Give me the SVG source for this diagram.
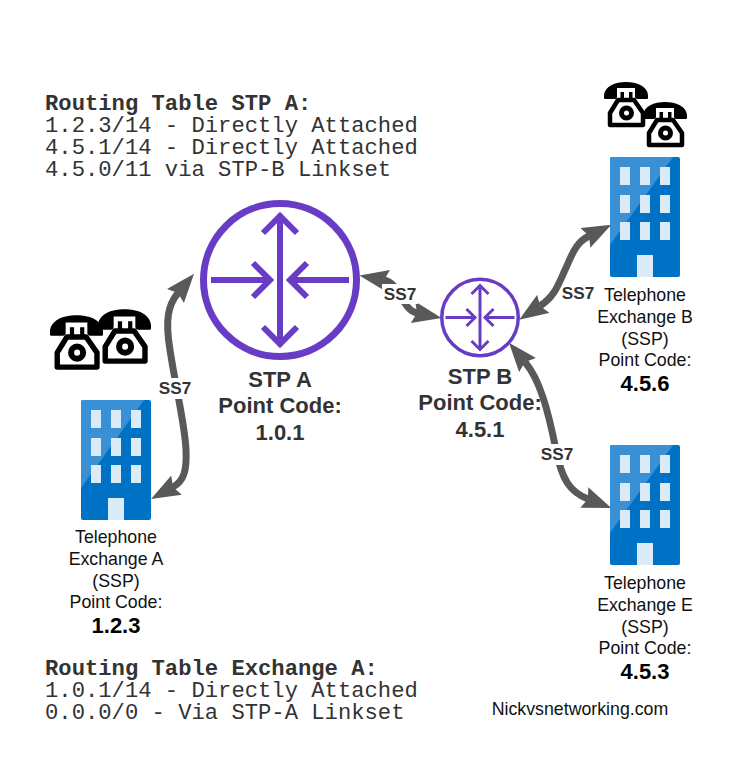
<svg xmlns="http://www.w3.org/2000/svg" width="750" height="780" viewBox="0 0 750 780">
<style>
.mono{font-family:"Liberation Mono",monospace;font-size:22.2px;fill:#333}
.b{font-weight:bold}
.lab{font-family:"Liberation Sans",Arial,sans-serif;font-size:17.75px;fill:#111;text-anchor:middle}
.pc{font-family:"Liberation Sans",Arial,sans-serif;font-size:22px;font-weight:bold;fill:#000;text-anchor:middle}
.stp{font-family:"Liberation Sans",Arial,sans-serif;font-size:22px;font-weight:bold;fill:#333;text-anchor:middle}
.ss7{font-family:"Liberation Sans",Arial,sans-serif;font-size:17.2px;font-weight:bold;fill:#333;text-anchor:middle}
.link{fill:none;stroke:#595959;stroke-width:7;marker-start:url(#head);marker-end:url(#head)}
.r{fill:none;stroke:#693cc5;stroke-width:6}
</style>
<defs>
<marker id="head" markerUnits="userSpaceOnUse" markerWidth="30" markerHeight="24" refX="4" refY="11" orient="auto-start-reverse" viewBox="0 0 30 24"><path d="M29,11 L0,0 L4,11 L0,22Z" fill="#595959"/></marker>
<symbol id="building" viewBox="0 0 70 120" width="70" height="120" overflow="visible">
<rect width="70" height="120" rx="2" fill="#0072c6"/>
<path d="M2,0 H63 L0,88 V2 Q0,0 2,0Z" fill="#3a90d4"/>
<path d="M10,10h10v18h-10zM30,10h10v18h-10zM50,10h10v18h-10zM10,38h10v18h-10zM30,38h10v18h-10zM50,38h10v18h-10zM10,65h10v18h-10zM30,65h10v18h-10zM50,65h10v18h-10zM27,98h16v22h-16z" fill="#daeaf6"/>
</symbol>
<symbol id="phone" viewBox="0 0 44 46" overflow="visible">
<path d="M14,18 H30 L39,31 V43 H6 V31 Z" fill="#fff" stroke="#000" stroke-width="4.500" stroke-linejoin="round"/>
<path d="M0,16 V13 C1,4 11,0 22,0 S43,4 44,13 V16 Q44,17 43,17 H33 Q31,17 31,15 V6 H13 V15 Q13,17 11,17 H1 Q0,17 0,16Z" fill="#000"/>
<path d="M16.500,10h3.500v8h-3.500zM25,10h3.500v8h-3.500z" fill="#000"/>
<circle cx="22.500" cy="31" r="5" fill="#fff" stroke="#000" stroke-width="5"/>
</symbol>
<symbol id="router" viewBox="0 0 160 160" overflow="visible">
<circle cx="80" cy="80" r="76.500" fill="#fff" stroke="#693cc5" stroke-width="7"/>
<path class="r" d="M80,16 V144 M63,33 L80,16 L97,33 M63,127 L80,144 L97,127 M11,80 H70 M53,63 L70,80 L53,97 M149,80 H90 M107,63 L90,80 L107,97"/>
</symbol>
</defs>
<rect width="750" height="780" fill="#fff"/>

<g id="connectors">
<path class="link" d="M173,487 C184,481 187,470 186,450 C185,425 177,395 170,350 C165,320 168,305 178,293"/>
<path class="link" d="M384,280 C400,283 402,310 417,313"/>
<path class="link" d="M540,306 C555,296 558,285 565,270 C572,255 575,243 589,236"/>
<path class="link" d="M525,362 C540,380 548,410 556,450 C562,480 570,492 588,499"/>
<rect x="157" y="378" width="36" height="21" fill="#fff"/>
<text class="ss7" x="175" y="394">SS7</text>
<rect x="382" y="284" width="36" height="20" fill="#fff"/>
<text class="ss7" x="400" y="300">SS7</text>
<text class="ss7" x="578" y="299">SS7</text>
<rect x="539" y="444" width="36" height="21" fill="#fff"/>
<text class="ss7" x="557" y="460">SS7</text>
</g>

<g id="table-stp-a">
<text class="mono b" x="45" y="110">Routing Table STP A:</text>
<text class="mono" x="45" y="132">1.2.3/14 - Directly Attached</text>
<text class="mono" x="45" y="154">4.5.1/14 - Directly Attached</text>
<text class="mono" x="45" y="176">4.5.0/11 via STP-B Linkset</text>
</g>
<g id="table-exchange-a">
<text class="mono b" x="45" y="675">Routing Table Exchange A:</text>
<text class="mono" x="45" y="696.500">1.0.1/14 - Directly Attached</text>
<text class="mono" x="45" y="718.500">0.0.0/0 - Via STP-A Linkset</text>
</g>

<g id="stp-a">
<use href="#router" x="200" y="200" width="160" height="160"/>
<text class="stp" x="280" y="387">STP A</text>
<text class="stp" x="280" y="413">Point Code:</text>
<text class="stp" x="280" y="440">1.0.1</text>
</g>
<g id="stp-b">
<use href="#router" x="440" y="277.500" width="80" height="80"/>
<text class="stp" x="480" y="384">STP B</text>
<text class="stp" x="480" y="410">Point Code:</text>
<text class="stp" x="480" y="437">4.5.1</text>
</g>
<g id="exchange-a">
<use href="#phone" x="98" y="309" width="53" height="56"/>
<use href="#phone" x="50" y="315" width="53" height="56"/>
<use href="#building" x="81" y="400"/>
<text class="lab" x="116" y="543">Telephone</text>
<text class="lab" x="116" y="565">Exchange A</text>
<text class="lab" x="116" y="587">(SSP)</text>
<text class="lab" x="116" y="608">Point Code:</text>
<text class="pc" x="116" y="633">1.2.3</text>
</g>
<g id="exchange-b">
<use href="#phone" x="604" y="82" width="44" height="46"/>
<use href="#phone" x="643" y="102" width="44" height="46"/>
<use href="#building" x="610" y="157"/>
<text class="lab" x="645" y="301">Telephone</text>
<text class="lab" x="645" y="323">Exchange B</text>
<text class="lab" x="645" y="345">(SSP)</text>
<text class="lab" x="645" y="366">Point Code:</text>
<text class="pc" x="645" y="391">4.5.6</text>
</g>
<g id="exchange-e">
<use href="#building" x="610" y="445"/>
<text class="lab" x="645" y="589">Telephone</text>
<text class="lab" x="645" y="611">Exchange E</text>
<text class="lab" x="645" y="633">(SSP)</text>
<text class="lab" x="645" y="654">Point Code:</text>
<text class="pc" x="645" y="679">4.5.3</text>
</g>
<g id="credit">
<text class="lab" x="580" y="715">Nickvsnetworking.com</text>
</g>
</svg>
